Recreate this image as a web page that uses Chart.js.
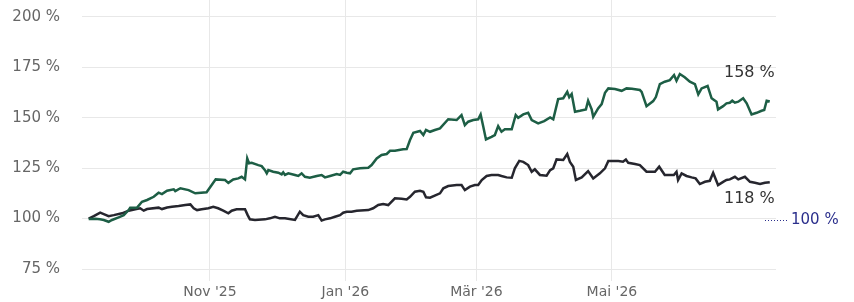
<!DOCTYPE html>
<html>
<head>
<meta charset="utf-8">
<script src="https://cdn.jsdelivr.net/npm/chart.js@4/dist/chart.umd.min.js"></script>
<style>
  html, body { margin: 0; padding: 0; background: #ffffff; }
  #wrap { width: 854px; height: 302px; }
</style>
</head>
<body>
<div id="wrap"><canvas id="c" width="854" height="302"></canvas></div>
<script>
// x values are days counted from 1 Sep 2025
const tickDays = [61, 122, 181, 242];
const tickLabels = ["Nov '25", "Jan '26", "Mär '26", "Mai '26"];
const yTicks = [75, 100, 125, 150, 175, 200];

const greenDays = [6.4,9.4,11.5,13.2,15.4,16.9,19.9,22.2,24.4,25.1,
  28.2,30.4,32.7,35.7,37.9,39.4,41.7,44.7,45.4,47.7,
  51.4,54.4,59.5,61.8,63.6,67.8,69.3,71.5,73.8,75.3,
  76.8,77.8,78.6,79.8,82.8,84.3,85.8,86.6,87.3,89.5,
  91.8,93.3,94.0,94.8,96.3,99.3,100.8,102.3,103.8,106.0,
  109.1,111.3,112.8,115.1,118.1,119.6,121.0,122.6,124.1,125.5,
  128.6,132.3,133.8,136.1,138.3,140.6,142.1,144.3,148.0,149.6,
  151.1,152.6,155.6,157.1,158.3,160.1,162.3,164.6,168.3,172.1,
  174.3,175.8,177.3,179.6,181.8,182.9,184.1,185.3,187.8,189.3,
  190.8,192.3,193.8,196.9,198.7,199.8,202.1,204.3,205.9,208.8,
  211.5,214.2,215.6,217.8,220.1,221.9,222.8,223.9,225.4,227.6,
  230.3,231.3,232.9,233.6,235.8,237.4,238.9,240.4,243.4,246.4,
  248.6,251.0,254.6,255.4,257.6,260.6,261.8,263.6,265.8,268.1,
  270.0,271.1,272.6,274.8,277.1,279.4,280.9,282.4,285.1,286.9,
  289.1,289.8,292.1,293.6,295.1,296.2,297.4,298.9,301.1,302.7,
  304.9,307.2,309.4,310.6,311.7,313.1];
const greenValues = [99.8,99.9,99.6,99.3,98.4,99.3,100.6,101.7,104.2,105.4,
  105.4,108.3,109.2,110.8,112.8,112.1,113.8,114.5,113.6,115.0,
  114.1,112.5,113.0,116.6,119.4,119.1,117.7,119.4,119.9,120.7,
  119.4,129.8,127.4,127.6,126.5,126.0,124.0,122.4,124.0,123.2,
  122.7,121.9,122.9,121.6,122.4,121.6,121.1,122.4,120.7,120.2,
  121.1,121.6,120.4,121.1,122.0,121.6,123.2,122.7,122.4,124.4,
  124.9,125.2,126.5,129.8,131.5,132.0,133.6,133.6,134.3,134.4,
  138.9,142.5,143.4,141.4,143.9,143.0,143.9,144.7,149.2,148.8,
  151.3,146.3,148.0,148.8,149.2,151.6,145.5,139.2,140.5,141.4,
  145.8,143.0,144.2,144.2,151.3,149.9,151.6,152.4,148.8,147.2,
  148.3,150.1,149.2,159.2,159.6,162.8,160.1,161.7,152.9,153.4,
  154.1,158.4,154.1,150.4,154.6,156.7,162.3,164.5,164.2,163.3,
  164.5,164.3,163.7,162.8,155.7,158.2,160.2,166.6,167.8,168.6,
  171.1,168.3,171.6,170.0,167.8,166.6,161.5,164.5,165.7,159.6,
  157.9,154.1,155.7,157.1,157.4,158.4,157.4,157.9,159.6,157.1,
  151.6,152.4,153.4,153.8,158.4,158.0];

const blackDays = [6.4,8.7,11.6,13.2,15.4,17.7,21.4,24.4,27.4,29.6,
  31.2,32.7,37.9,39.4,41.7,43.9,46.9,49.9,52.2,53.7,
  55.2,57.3,60.3,62.5,64.7,67.0,69.3,70.8,73.0,76.8,
  78.0,79.0,81.3,85.8,88.0,90.3,92.5,94.8,99.3,101.5,
  103.0,105.3,107.5,109.8,111.3,112.8,115.1,117.3,119.6,121.0,
  122.6,124.8,127.1,132.3,134.5,136.8,139.0,141.3,144.3,147.3,
  149.6,151.1,153.3,155.6,157.1,158.3,160.1,164.6,166.1,168.3,
  172.1,174.3,175.8,178.1,180.3,181.8,183.4,185.6,187.8,190.8,
  192.3,194.6,196.9,198.3,200.3,202.1,204.3,205.9,207.3,209.6,
  212.6,214.2,215.6,217.1,220.1,221.9,223.1,224.6,225.8,228.4,
  231.3,233.6,236.6,238.9,240.4,244.9,247.0,248.3,249.4,252.4,
  254.6,257.6,261.4,263.3,265.8,268.1,269.9,271.1,271.8,273.4,
  275.6,277.9,279.7,281.6,283.9,286.1,287.6,289.8,292.1,293.6,
  295.1,297.4,298.9,301.9,304.2,306.4,308.7,310.9,313.1];
const blackValues = [100.0,101.2,102.9,102.2,101.2,101.7,102.6,103.9,104.6,105.1,
  103.9,104.7,105.4,104.7,105.5,105.8,106.2,106.7,107.0,105.1,
  104.2,104.6,105.1,105.8,105.1,103.9,102.6,103.9,104.6,104.6,
  101.7,99.6,99.3,99.6,100.1,100.9,100.1,100.2,99.3,103.4,
  101.7,100.9,100.9,101.7,99.0,99.6,100.1,100.9,101.7,102.9,
  103.4,103.4,103.9,104.2,105.1,106.7,107.2,106.7,110.0,109.8,
  109.5,110.8,113.3,113.8,113.3,110.5,110.3,112.5,115.0,116.1,
  116.6,116.6,114.1,115.8,116.6,116.6,119.1,121.1,121.6,121.6,
  121.1,120.4,120.2,124.9,128.6,128.1,126.5,123.2,124.4,121.6,
  121.2,124.0,124.9,129.3,129.0,132.0,128.1,125.7,119.1,120.4,
  123.5,119.9,122.4,124.9,128.5,128.5,128.2,129.3,127.6,127.0,
  126.5,123.2,123.2,125.7,121.6,121.6,121.6,123.2,119.1,122.4,
  121.1,120.4,119.9,117.1,118.2,118.7,122.7,116.6,118.2,119.1,
  119.4,120.7,119.4,120.7,118.2,117.7,117.1,117.7,118.0];

const baseValue = 100;

const FONT = "'DejaVu Sans', sans-serif";
const GREEN = '#1d5e45';
const BLACK = '#26262e';
const BLUE = '#2b2f8c';

function toPoints(xs, ys) { return xs.map((x, i) => ({ x: x, y: ys[i] })); }

const endLabels = {
  id: 'endLabels',
  afterDatasetsDraw(chart) {
    const ctx = chart.ctx;
    const xs = chart.scales.x, ys = chart.scales.y;
    const area = chart.chartArea;
    ctx.save();
    ctx.font = '16px ' + FONT;
    ctx.fillStyle = '#333333';
    ctx.textAlign = 'right';
    ctx.textBaseline = 'middle';
    const gx = xs.getPixelForValue(greenDays[greenDays.length - 1]);
    const gy = ys.getPixelForValue(greenValues[greenValues.length - 1]);
    ctx.fillText(Math.round(greenValues[greenValues.length - 1]) + ' %', gx + 5, gy - 29);
    const bx = xs.getPixelForValue(blackDays[blackDays.length - 1]);
    const by = ys.getPixelForValue(blackValues[blackValues.length - 1]);
    ctx.fillText(Math.round(blackValues[blackValues.length - 1]) + ' %', bx + 5, by + 17);
    const py = Math.round(ys.getPixelForValue(baseValue)) + 1.5;
    ctx.strokeStyle = BLUE;
    ctx.lineWidth = 1;
    ctx.setLineDash([1, 2]);
    ctx.beginPath();
    ctx.moveTo(area.right - 11, py);
    ctx.lineTo(area.right + 12, py);
    ctx.stroke();
    ctx.setLineDash([]);
    ctx.font = '15px ' + FONT;
    ctx.fillStyle = BLUE;
    ctx.textAlign = 'left';
    ctx.fillText(baseValue + ' %', area.right + 15, py);
    ctx.restore();
  }
};

new Chart(document.getElementById('c'), {
  type: 'line',
  data: {
    datasets: [
      { data: toPoints(greenDays, greenValues), borderColor: GREEN, borderWidth: 2.5,
        pointRadius: 0, tension: 0, fill: false },
      { data: toPoints(blackDays, blackValues), borderColor: BLACK, borderWidth: 2.5,
        pointRadius: 0, tension: 0, fill: false }
    ]
  },
  options: {
    responsive: false,
    animation: false,
    devicePixelRatio: 1,
    layout: { padding: { top: 0, right: 78, bottom: 0, left: 0 } },
    plugins: { legend: { display: false }, tooltip: { enabled: false } },
    scales: {
      x: {
        type: 'linear',
        min: 3.4,
        max: 315.9,
        afterBuildTicks(scale) { scale.ticks = tickDays.map(v => ({ value: v })); },
        afterFit(scale) { scale.height = 33; scale.paddingLeft = 0; scale.paddingRight = 0; },
        border: { display: false },
        grid: { color: '#e8e8e8', lineWidth: 1, drawTicks: true, tickLength: 12 },
        ticks: {
          font: { family: FONT, size: 14 }, color: '#666666', padding: 3,
          maxRotation: 0, autoSkip: false,
          callback(v) { const i = tickDays.indexOf(v); return i >= 0 ? tickLabels[i] : ''; }
        }
      },
      y: {
        min: 75,
        max: 208.3,
        afterBuildTicks(scale) { scale.ticks = yTicks.map(v => ({ value: v })); },
        afterFit(scale) { scale.width = 82; scale.paddingTop = 0; scale.paddingBottom = 0; },
        border: { display: false },
        grid: { color: '#e8e8e8', lineWidth: 1, drawTicks: false },
        ticks: {
          font: { family: FONT, size: 15 }, color: '#666666', padding: 22,
          callback(v) { return v + ' %'; }
        }
      }
    }
  },
  plugins: [endLabels]
});
</script>
</body>
</html>
